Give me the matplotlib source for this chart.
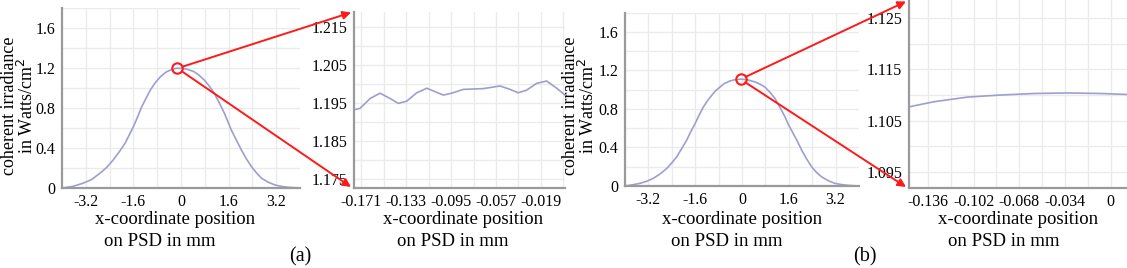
"""Coherent irradiance profiles on the PSD with zoomed insets (a) and (b)"""
import matplotlib.pyplot as plt
from matplotlib.patches import ConnectionPatch

plt.rcParams['font.family'] = ['Liberation Serif', 'DejaVu Serif']
plt.rcParams['axes.unicode_minus'] = False

# (a) full profile
a_full_x = [-4.0, -3.65, -3.30, -3.0, -2.73, -2.5, -2.28, -2.08, -1.88,
            -1.74, -1.60, -1.46, -1.32, -1.17, -1.03, -0.86, -0.69, -0.50,
            -0.35, -0.16, 0.0, 0.20, 0.44, 0.60, 0.78, 0.95, 1.12, 1.29,
            1.46, 1.58, 1.69, 1.86, 2.03, 2.20, 2.37, 2.54, 2.71, 2.93,
            3.16, 3.40, 3.62, 4.0]
a_full_y = [0.0, 0.015, 0.047, 0.085, 0.147, 0.205, 0.28, 0.36, 0.447,
            0.53, 0.613, 0.71, 0.813, 0.90, 0.98, 1.055, 1.113, 1.16,
            1.18, 1.197, 1.197, 1.188, 1.163, 1.13, 1.08, 1.02, 0.947, 0.85,
            0.747, 0.66, 0.58, 0.48, 0.38, 0.29, 0.213, 0.15, 0.097, 0.058,
            0.03, 0.015, 0.007, 0.0]
# (a) zoom on the peak
a_zoom_x = [-0.177, -0.1719, -0.1634, -0.155, -0.1465, -0.1395, -0.1324,
            -0.124, -0.1155, -0.1085, -0.1015, -0.0944, -0.0846, -0.0762,
            -0.0677, -0.0536, -0.0452, -0.0382, -0.0311, -0.0226, -0.0142,
            -0.0057, 0.0013]
a_zoom_y = [1.1932, 1.1936, 1.1962, 1.1976, 1.1962, 1.1949, 1.1955,
            1.1977, 1.1989, 1.1980, 1.1971, 1.1976, 1.1986, 1.1987,
            1.1988, 1.1995, 1.1986, 1.1977, 1.1984, 1.2002, 1.2008,
            1.1989, 1.1971]
a_peak = (-0.12, 1.197)

# (b) full profile
b_full_x = [-4.0, -3.75, -3.48, -3.25, -3.03, -2.8, -2.57, -2.4, -2.23,
            -2.06, -1.89, -1.75, -1.60, -1.46, -1.32, -1.17, -1.03, -0.90,
            -0.75, -0.60, -0.41, -0.25, -0.10, 0.0, 0.20, 0.44, 0.60, 0.78,
            0.95, 1.13, 1.30, 1.47, 1.60, 1.75, 1.90, 2.04, 2.20, 2.38,
            2.55, 2.72, 2.95, 3.17, 3.40, 3.63, 4.0]
b_full_y = [0.0, 0.012, 0.028, 0.05, 0.08, 0.125, 0.183, 0.24, 0.304,
            0.39, 0.477, 0.565, 0.65, 0.74, 0.822, 0.89, 0.943, 0.99,
            1.029, 1.065, 1.091, 1.103, 1.109, 1.109, 1.102, 1.081, 1.06,
            1.029, 0.975, 0.909, 0.815, 0.718, 0.63, 0.546, 0.46, 0.373,
            0.285, 0.2, 0.14, 0.096, 0.055, 0.028, 0.015, 0.007, 0.0]
# (b) zoom on the peak
b_zoom_x = [-0.150, -0.1313, -0.1065, -0.0818, -0.0570, -0.0322, -0.0074,
            0.0127]
b_zoom_y = [1.1077, 1.1087, 1.1096, 1.1100, 1.1103, 1.1104, 1.1103, 1.1101]
b_peak = (-0.05, 1.109)

full_xticks = [-3.2, -1.6, 0, 1.6, 3.2]
full_xticklabels = ["-3.2", "-1.6", "0", "1.6", "3.2"]
full_yticks = [0, 0.4, 0.8, 1.2, 1.6]
full_yticklabels = ["0", "0.4", "0.8", "1.2", "1.6"]

a_zoom_xticks = [-0.171, -0.133, -0.095, -0.057, -0.019]
a_zoom_yticks = [1.175, 1.185, 1.195, 1.205, 1.215]
b_zoom_xticks = [-0.136, -0.102, -0.068, -0.034, 0]
b_zoom_xticklabels = ["-0.136", "-0.102", "-0.068", "-0.034", "0"]
b_zoom_yticks = [1.095, 1.105, 1.115, 1.125]

LINE_COLOR = "#9e9ed0"
GRID_COLOR = "#ebebeb"
SPINE_COLOR = "#9a9a9a"
ARROW_COLOR = "#ff1a1a"
TICK_SIZE = 11.5
LABEL_SIZE = 13.5

W, H = 1127, 268


def px_axes(fig, left, top, right, bottom):
    """Adds axes from pixel edges measured from top-left"""
    return fig.add_axes([left / W, 1 - bottom / H,
                         (right - left) / W, (bottom - top) / H])


def style_panel(ax, xlim, ylim, xticks, yticks, xgrid, ygrid,
                xticklabels=None, yticklabels=None):
    """Grid, spines and ticks in the look of the original software"""
    ax.set_xlim(*xlim)
    ax.set_ylim(*ylim)
    for v in xgrid:
        ax.axvline(v, color=GRID_COLOR, lw=1, zorder=0)
    for v in ygrid:
        ax.axhline(v, color=GRID_COLOR, lw=1, zorder=0)
    ax.set_xticks(xticks)
    ax.set_yticks(yticks)
    if xticklabels is None:
        xticklabels = [str(t) for t in xticks]
    if yticklabels is None:
        yticklabels = [str(t) for t in yticks]
    ax.set_xticklabels(xticklabels, fontsize=TICK_SIZE)
    ax.set_yticklabels(yticklabels, fontsize=TICK_SIZE)
    ax.tick_params(length=0, pad=5)
    ax.tick_params(axis='x', pad=4)
    for side in ["top", "right"]:
        ax.spines[side].set_visible(False)
    for side in ["left", "bottom"]:
        ax.spines[side].set_color(SPINE_COLOR)
        ax.spines[side].set_linewidth(1.6)


def xlabel_lines(fig, cx1, cx2):
    fig.text(cx1 / W, 1 - 220 / H, "x-coordinate position",
             fontsize=LABEL_SIZE, ha="center", va="center")
    fig.text(cx2 / W, 1 - 242 / H, "on PSD in mm",
             fontsize=LABEL_SIZE, ha="center", va="center")


def ylabel_lines(fig, cx, cy):
    fig.text(cx / W, 1 - cy / H, "coherent irradiance\nin Watts/cm$^2$",
             rotation=90, fontsize=13, linespacing=0.88,
             ha="center", va="center", multialignment="center")


def zoom_arrows(fig, ax_full, ax_zoom, peak, top_px, bottom_px, tip_x):
    ax_full.plot(*peak, marker="o", ms=7.5, mfc="none", mec=ARROW_COLOR,
                 mew=1.5, zorder=5, clip_on=False)
    for y_px in [top_px, bottom_px]:
        con = ConnectionPatch(xyA=peak, coordsA=ax_full.transData,
                              xyB=(tip_x / W, 1 - y_px / H),
                              coordsB=fig.transFigure,
                              arrowstyle="-|>", mutation_scale=12,
                              color=ARROW_COLOR, lw=1.4, shrinkA=4,
                              shrinkB=0, zorder=6)
        fig.add_artist(con)


def plot_figure():
    fig = plt.figure(figsize=(W / 100, H / 100), dpi=100)

    full_xgrid = [-3.2, -2.4, -1.6, -0.8, 0, 0.8, 1.6, 2.4, 3.2]
    full_ygrid = [0.2, 0.4, 0.6, 0.8, 1.0, 1.2, 1.4, 1.6, 1.8]

    # panel (a) full
    ax1 = px_axes(fig, 62, 8, 300, 188)
    ax1.plot(a_full_x, a_full_y, color=LINE_COLOR, lw=1.2)
    style_panel(ax1, (-4, 4), (0, 1.8), full_xticks, full_yticks,
                full_xgrid, full_ygrid, full_xticklabels, full_yticklabels)

    # panel (a) zoom
    ax2 = px_axes(fig, 354, 12, 565, 188)
    ax2.plot(a_zoom_x, a_zoom_y, color=LINE_COLOR, lw=1.2)
    style_panel(ax2, (-0.177, 0.0013), (1.1726, 1.219),
                a_zoom_xticks, a_zoom_yticks,
                [-0.171 + 0.019 * k for k in range(10)],
                [1.175 + 0.005 * k for k in range(9)])

    # panel (b) full
    ax3 = px_axes(fig, 625, 12.7, 859, 186)
    ax3.plot(b_full_x, b_full_y, color=LINE_COLOR, lw=1.2)
    style_panel(ax3, (-4, 4), (0, 1.8), full_xticks, full_yticks,
                full_xgrid, full_ygrid, full_xticklabels, full_yticklabels)

    # panel (b) zoom
    ax4 = px_axes(fig, 909, 0, 1127, 188)
    ax4.plot(b_zoom_x, b_zoom_y, color=LINE_COLOR, lw=1.2)
    style_panel(ax4, (-0.150, 0.012), (1.0919, 1.1285),
                b_zoom_xticks, b_zoom_yticks,
                [-0.136 + 0.017 * k for k in range(10)],
                [1.095 + 0.005 * k for k in range(7)],
                b_zoom_xticklabels)

    zoom_arrows(fig, ax1, ax2, a_peak, 12.5, 187, 351)
    zoom_arrows(fig, ax3, ax4, b_peak, 1.5, 187, 906)

    ylabel_lines(fig, 19, 106)
    ylabel_lines(fig, 580, 106)
    xlabel_lines(fig, 175, 160)
    xlabel_lines(fig, 463, 453)
    xlabel_lines(fig, 742, 727)
    xlabel_lines(fig, 1018, 1004)

    fig.text(300 / W, 1 - 257 / H, "(a)", fontsize=LABEL_SIZE + 1,
             ha="center", va="center")
    fig.text(865 / W, 1 - 257 / H, "(b)", fontsize=LABEL_SIZE + 1,
             ha="center", va="center")

    fig.savefig("out.png", dpi=100)


if __name__ == "__main__":
    plot_figure()
